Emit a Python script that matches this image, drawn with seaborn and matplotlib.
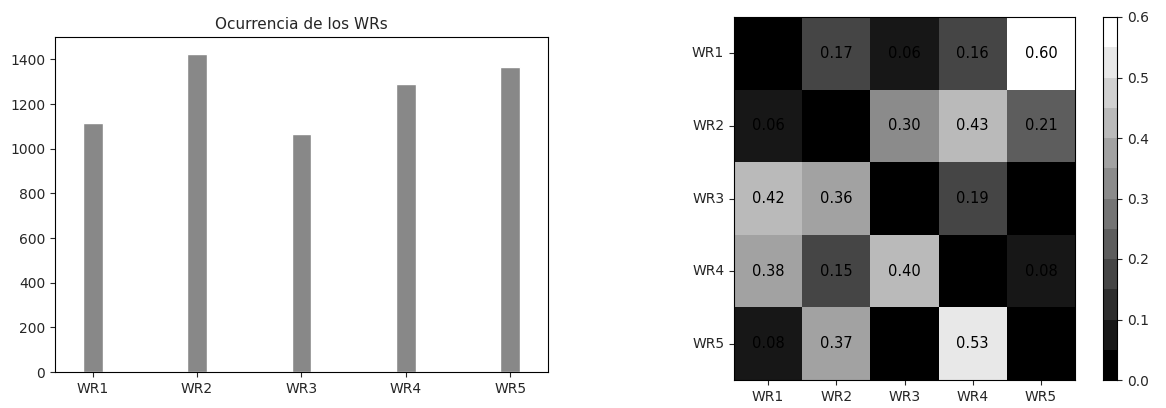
import numpy as np
import pandas as pd
import matplotlib
matplotlib.use("Agg")
import matplotlib.pyplot as plt
from matplotlib.colors import ListedColormap
import seaborn as sns

labels = ["WR1", "WR2", "WR3", "WR4", "WR5"]
counts = [1115, 1425, 1065, 1290, 1365]
matrix = [
    [0.00, 0.17, 0.06, 0.16, 0.60],
    [0.06, 0.00, 0.30, 0.43, 0.21],
    [0.42, 0.36, 0.00, 0.19, 0.00],
    [0.38, 0.15, 0.40, 0.00, 0.08],
    [0.08, 0.37, 0.00, 0.53, 0.00],
]

sns.set_style("ticks")
fig = plt.figure(figsize=(11.66, 4.08), dpi=100)

# bar chart
ax1 = fig.add_axes([55 / 1166, 1 - 372 / 408, 493 / 1166, 335 / 408])
df = pd.DataFrame({"wr": labels, "n": counts})
sns.barplot(data=df, x="wr", y="n", color="#888888", saturation=1, width=0.19, ax=ax1)
ax1.set_xlim(-0.36, 4.36)
ax1.set_ylim(0, 1500)
ax1.set_xlabel("")
ax1.set_ylabel("")
ax1.set_title("Ocurrencia de los WRs", fontsize=11)
for s in ax1.spines.values():
    s.set_visible(True)
    s.set_color("black")
ax1.tick_params(labelsize=10)

# heatmap
ax2 = fig.add_axes([734 / 1166, 1 - 380 / 408, 341 / 1166, 363 / 408])
cax = fig.add_axes([1103 / 1166, 1 - 380 / 408, 14 / 1166, 363 / 408])
m = pd.DataFrame(matrix, index=labels, columns=labels)
annot = m.map(lambda v: f"{v:.2f}" if v > 0 else "")
cmap = ListedColormap(plt.cm.gray(np.linspace(0, 1, 12)))
sns.heatmap(m, ax=ax2, cbar_ax=cax, cmap=cmap,
            vmin=0, vmax=0.6, annot=annot, fmt="", annot_kws={"color": "black", "fontsize": 10.5})
ax2.tick_params(labelsize=10, rotation=0, length=3.5)
cax.tick_params(labelsize=10)
for s in list(ax2.spines.values()) + list(cax.spines.values()):
    s.set_visible(True)
    s.set_color("black")

fig.savefig("out.png", dpi=100)
